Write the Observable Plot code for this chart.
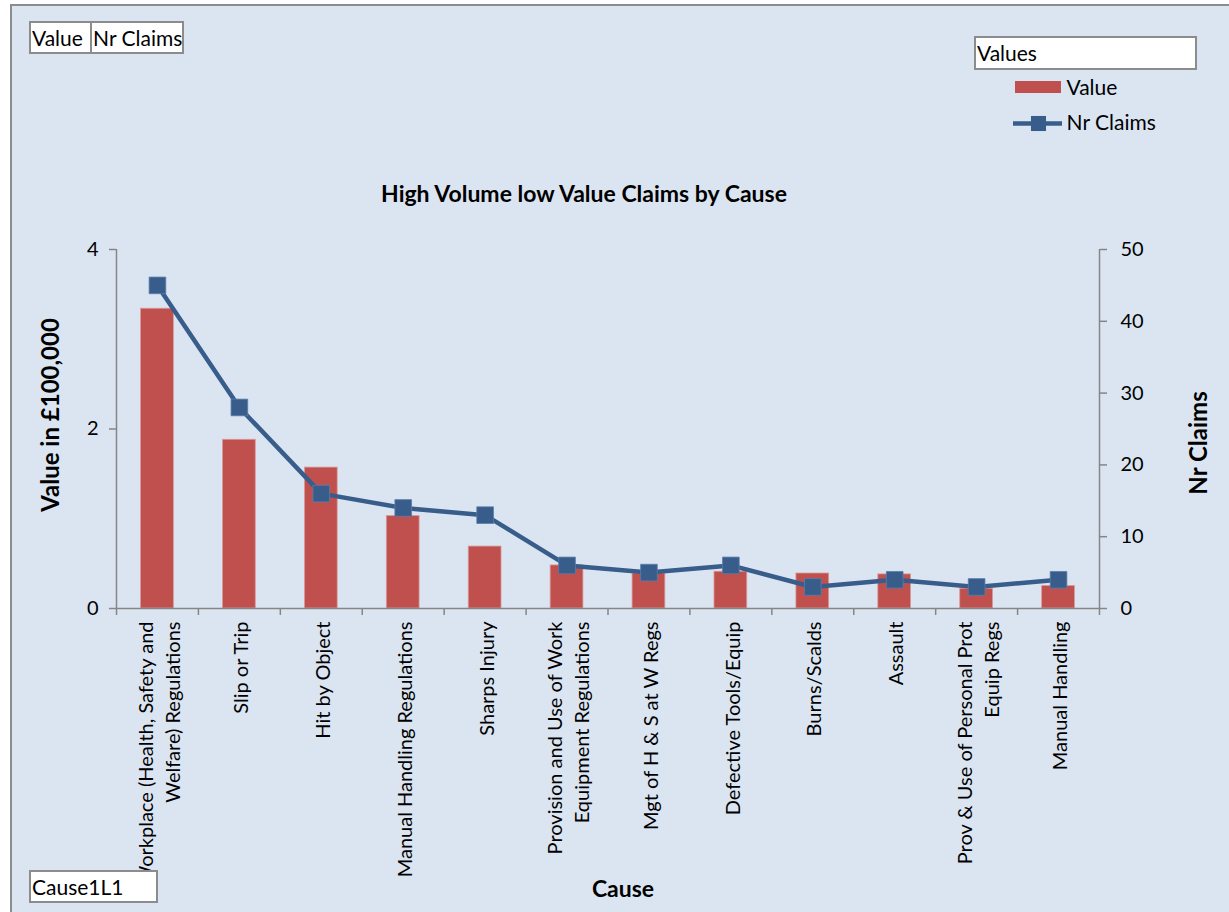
<!DOCTYPE html>
<html><head><meta charset="utf-8">
<script src="https://cdn.jsdelivr.net/npm/d3@7"></script>
<script src="https://cdn.jsdelivr.net/npm/@observablehq/plot@0.6"></script>
<style>
body{margin:0;background:#fff;font-family:Lato,"Open Sans",sans-serif;width:1229px;height:912px;overflow:hidden;position:relative;}
#bg{position:absolute;left:10px;top:4px;width:1240px;height:930px;background:#dbe5f1;border:2px solid #8c8c8c;box-sizing:border-box;}
#plot{position:absolute;left:0;top:0;}
.box{position:absolute;background:#fff;border:2px solid #8c8c8c;box-sizing:border-box;font-size:21px;line-height:29px;color:#000;white-space:nowrap;}
.lbl{position:absolute;color:#000;white-space:nowrap;}
.b{font-weight:bold;font-size:23px;}
</style></head>
<body>
<div id="bg"></div>
<div id="plot"></div>
<div class="box" style="left:29px;top:21px;width:63px;height:33px;padding-left:1px;">Value</div>
<div class="box" style="left:90px;top:21px;width:94px;height:33px;padding-left:1px;">Nr Claims</div>
<div class="box" style="left:974px;top:36px;width:223px;height:34px;padding-left:1px;">Values</div>
<div class="box" style="left:29px;top:870px;width:129px;height:33px;padding-left:1px;">Cause1L1</div>
<div id="legend"></div>
<div class="lbl b" style="left:584px;top:193px;transform:translate(-50%,-50%);">High Volume low Value Claims by Cause</div>
<div class="lbl b" style="left:49px;top:415px;font-size:24px;transform:translate(-50%,-50%) rotate(-90deg);">Value in £100,000</div>
<div class="lbl b" style="left:1197px;top:443px;font-size:24px;transform:translate(-50%,-50%) rotate(-90deg);">Nr Claims</div>
<div class="lbl b" style="left:623px;top:888px;transform:translate(-50%,-50%);">Cause</div>
<script>
const causes = [
  "Workplace (Health, Safety and\nWelfare) Regulations",
  "Slip or Trip",
  "Hit by Object",
  "Manual Handling Regulations",
  "Sharps Injury",
  "Provision and Use of Work\nEquipment Regulations",
  "Mgt of H & S at W Regs",
  "Defective Tools/Equip",
  "Burns/Scalds",
  "Assault",
  "Prov & Use of Personal Prot\nEquip Regs",
  "Manual Handling"
];
const values = [3.34, 1.88, 1.57, 1.03, 0.69, 0.48, 0.39, 0.41, 0.39, 0.38, 0.22, 0.25];
const claims = [45, 28, 16, 14, 13, 6, 5, 6, 3, 4, 3, 4];
const leftTicks = [0, 2, 4];
const rightTicks = [0, 10, 20, 30, 40, 50];
const leftMax = 4, rightMax = 50;
const k = leftMax / rightMax;

const data = causes.map((c, i) => ({cause: c, i, value: values[i], claims: claims[i]}));
const axisColor = "#868686";
const barColor = "#c0504d";
const lineColor = "#385d8a";
const font = "Lato, 'Open Sans', sans-serif";

const chart = Plot.plot({
  width: 1229, height: 912,
  marginLeft: 116, marginRight: 130, marginTop: 249, marginBottom: 304,
  style: {background: "transparent", fontFamily: font, color: "#000"},
  x: {type: "linear", domain: [0, causes.length], axis: null},
  y: {domain: [0, leftMax], axis: null},
  marks: [
    Plot.rectY(data, {x1: d => d.i + 0.3, x2: d => d.i + 0.7, y: "value", fill: barColor, stroke: "#d99a98", strokeWidth: 0.8}),
    Plot.ruleY([0], {stroke: axisColor, strokeWidth: 1.5}),
    Plot.ruleX([0, causes.length], {y1: 0, y2: leftMax, stroke: axisColor, strokeWidth: 1.5}),
    Plot.axisX(d3.range(causes.length + 1), {anchor: "bottom", tickSize: 7, tickFormat: () => "", label: null, stroke: axisColor, strokeWidth: 1.5}),
    Plot.axisY(leftTicks, {anchor: "left", tickSize: 7, tickPadding: 11, fontSize: 20, label: null, stroke: axisColor, strokeWidth: 1.5, fill: "#000", tickFormat: d => String(d)}),
    Plot.axisY(rightTicks.map(v => v * k), {anchor: "right", tickSize: 7, tickPadding: 14, fontSize: 20, label: null, stroke: axisColor, strokeWidth: 1.5, fill: "#000", tickFormat: d => String(Math.round(d / k))}),
    Plot.text(data, {x: d => d.i + 0.5, y: 0, text: "cause", rotate: -90, textAnchor: "end", lineAnchor: "middle", dy: 13, fontSize: 20, lineHeight: 1.35, fill: "#000"}),
    Plot.line(data, {x: d => d.i + 0.5, y: d => d.claims * k, stroke: lineColor, strokeWidth: 4.5}),
    Plot.dot(data, {x: d => d.i + 0.5, y: d => d.claims * k, symbol: "square", r: 9.4, fill: lineColor, stroke: "#5a7eab", strokeWidth: 0.8})
  ]
});
document.getElementById("plot").append(chart);

// legend
const leg = Plot.plot({
  width: 220, height: 70, margin: 0,
  style: {background: "transparent", fontFamily: font},
  x: {domain: [0, 220], axis: null}, y: {domain: [0, 70], axis: null},
  marks: [
    Plot.rect([{s: "Value"}], {x1: 10, x2: 56, y1: 59, y2: 47, fill: barColor}),
    Plot.ruleY([{s: "Nr Claims"}], {y: 17, x1: 8, x2: 57, stroke: lineColor, strokeWidth: 4.5}),
    Plot.dot([{s: "Nr Claims"}], {x: 33, y: 17, symbol: "square", r: 8.5, fill: lineColor}),
    Plot.text(["Value", "Nr Claims"], {x: 61, y: (d, i) => i === 0 ? 52 : 17, text: d => d, textAnchor: "start", fontSize: 21, fill: "#000"})
  ]
});
leg.style.position = "absolute"; leg.style.left = "1005px"; leg.style.top = "70px";
document.getElementById("legend").append(leg);
</script>
</body></html>
